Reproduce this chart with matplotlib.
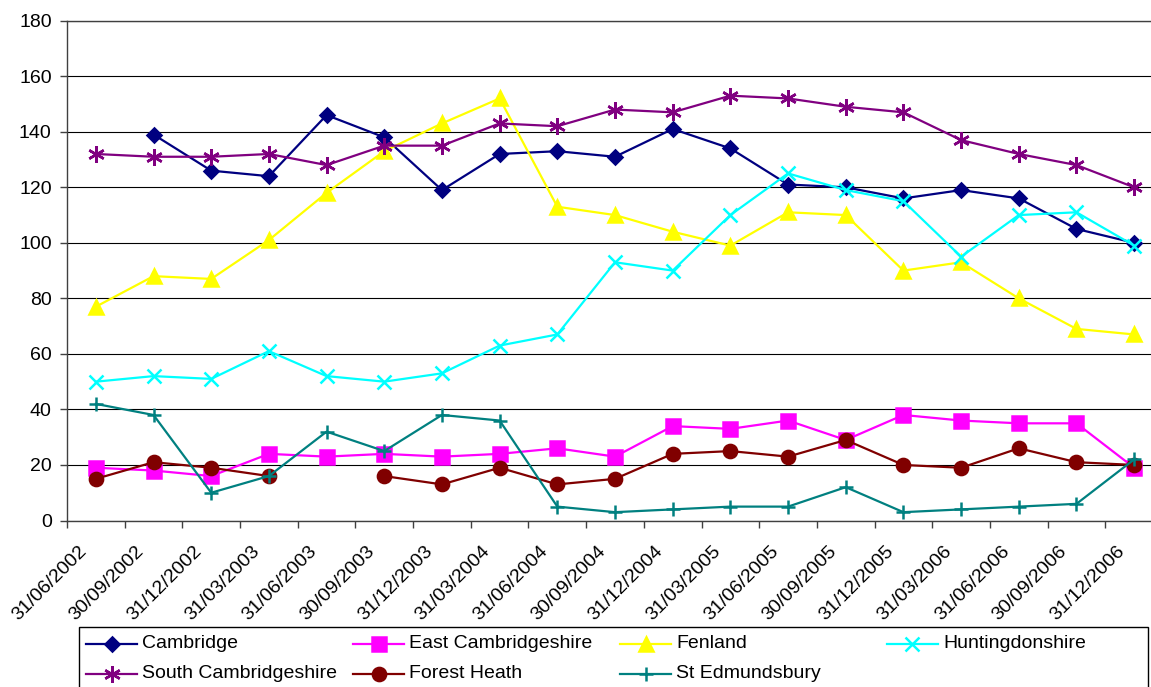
import numpy as np
import matplotlib
matplotlib.use('Agg')
import matplotlib.pyplot as plt
from matplotlib.lines import Line2D
from matplotlib.patches import Rectangle
from matplotlib.transforms import ScaledTranslation

plt.rcParams['font.family'] = ['Liberation Sans', 'DejaVu Sans']

# Quarter-end dates used as category labels
dates = ['31/06/2002', '30/09/2002', '31/12/2002', '31/03/2003', '31/06/2003',
         '30/09/2003', '31/12/2003', '31/03/2004', '31/06/2004', '30/09/2004',
         '31/12/2004', '31/03/2005', '31/06/2005', '30/09/2005', '31/12/2005',
         '31/03/2006', '31/06/2006', '30/09/2006', '31/12/2006']

nan = np.nan
cambridge = [nan, 139, 126, 124, 146, 138, 119, 132, 133, 131, 141, 134, 121, 120, 116, 119, 116, 105, 100]
east_cambs = [19, 18, 16, 24, 23, 24, 23, 24, 26, 23, 34, 33, 36, 29, 38, 36, 35, 35, 19]
fenland = [77, 88, 87, 101, 118, 133, 143, 152, 113, 110, 104, 99, 111, 110, 90, 93, 80, 69, 67]
hunts = [50, 52, 51, 61, 52, 50, 53, 63, 67, 93, 90, 110, 125, 119, 115, 95, 110, 111, 99]
south_cambs = [132, 131, 131, 132, 128, 135, 135, 143, 142, 148, 147, 153, 152, 149, 147, 137, 132, 128, 120]
forest_heath = [15, 21, 19, 16, nan, 16, 13, 19, 13, 15, 24, 25, 23, 29, 20, 19, 26, 21, 20]
st_edmundsbury = [42, 38, 10, 16, 32, 25, 38, 36, 5, 3, 4, 5, 5, 12, 3, 4, 5, 6, 22]

# name, values, colour, marker, marker size
series = [
    ('Cambridge', cambridge, '#000080', 'D', 7.5),
    ('East Cambridgeshire', east_cambs, '#FF00FF', 's', 9.5),
    ('Fenland', fenland, '#FFFF00', '^', 10),
    ('Huntingdonshire', hunts, '#00FFFF', 'x', 9.5),
    ('South Cambridgeshire', south_cambs, '#800080', (6, 2, 0), 12),
    ('Forest Heath', forest_heath, '#800000', 'o', 9.5),
    ('St Edmundsbury', st_edmundsbury, '#008080', '+', 10),
]

W, H = 1151, 687
fig = plt.figure(figsize=(W / 100, H / 100), dpi=100)
ax = fig.add_axes([67 / W, (H - 520.5) / H, 1096 / W, 499.8 / H])

x = np.arange(len(dates))
for name, vals, col, mk, ms in series:
    ax.plot(x, vals, color=col, lw=1.6, marker=mk, ms=ms, mew=1.8,
            mfc=col, mec=col, label=name, clip_on=False, zorder=3)

ax.set_xlim(-0.5, len(dates) - 0.5)
ax.set_ylim(0, 180)
ax.set_yticks(range(0, 181, 20))
ax.yaxis.grid(True, color='#000000', lw=0.8)
ax.set_axisbelow(True)

ax.set_xticks(x)
ax.set_xticklabels(dates, rotation=45, ha='right', va='top', fontsize=14)
ax.set_xticks(np.arange(-0.5, len(dates), 1), minor=True)
ax.tick_params(axis='x', which='major', length=0, pad=16)
ax.tick_params(axis='x', which='minor', length=5, width=1, direction='out', color='#404040')
ax.tick_params(axis='y', length=5, width=1, pad=6, labelsize=14, color='#404040')
offset = ScaledTranslation(-6 / 100, 0, fig.dpi_scale_trans)
for lbl in ax.get_xticklabels():
    lbl.set_transform(lbl.get_transform() + offset)

for side in ['left', 'bottom', 'top']:
    ax.spines[side].set_color('#404040')
    ax.spines[side].set_linewidth(1)
ax.spines['right'].set_visible(False)

# legend laid out in four equal columns below the plot
def fx(px):
    return px / W

def fy(py):
    return 1 - py / H

fig.add_artist(Rectangle((fx(79), fy(700)), fx(1148) - fx(79), fy(627) - fy(700),
                         transform=fig.transFigure, fill=False, ec='#000000', lw=1))
for i, (name, vals, col, mk, ms) in enumerate(series):
    row, c = divmod(i, 4)
    x0 = 86 + 267 * c
    yy = 644 + 30 * row
    fig.add_artist(Line2D([fx(x0), fx(x0 + 51)], [fy(yy), fy(yy)], transform=fig.transFigure,
                          color=col, lw=1.6))
    fig.add_artist(Line2D([fx(x0 + 25.5)], [fy(yy)], transform=fig.transFigure,
                          color=col, marker=mk, ms=ms, mew=1.8, mfc=col, mec=col, lw=0))
    fig.text(fx(x0 + 56), fy(yy), name, fontsize=14, va='center', ha='left')

fig.savefig('out.png', dpi=100)
